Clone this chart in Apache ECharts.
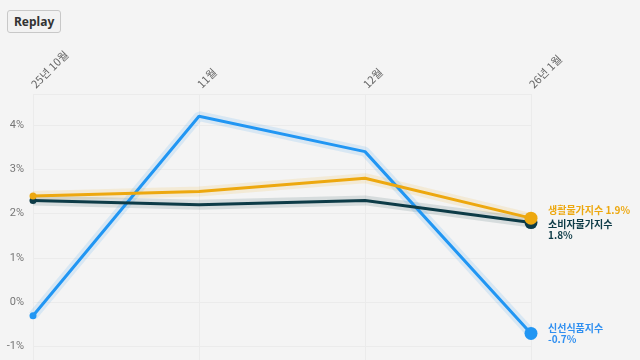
<!DOCTYPE html>
<html><head><meta charset="utf-8">
<script src="https://cdn.jsdelivr.net/npm/echarts@6/dist/echarts.min.js"></script>
<style>
html,body{margin:0;padding:0;background:#f4f4f4;width:640px;height:360px;overflow:hidden;}
#btn{position:absolute;left:7px;top:10px;height:23px;padding:0 6px;font:bold 12px "Noto Sans",sans-serif;color:#333;background:#f2f2f2;border:1px solid #c8c8c8;border-radius:3px;z-index:2;}
#c{position:absolute;left:0;top:0;width:640px;height:360px;}
</style></head><body>
<button id="btn">Replay</button>
<div id="c"></div>
<script>
const categories = ['25년 10월', '11월', '12월', '26년 1월'];
const seriesNames = ['생활물가지수', '소비자물가지수', '신선식품지수'];
const livingValues = [2.4, 2.5, 2.8, 1.9];
const consumerValues = [2.3, 2.2, 2.3, 1.8];
const freshValues = [-0.3, 4.2, 3.4, -0.7];
const yTicks = [-1, 0, 1, 2, 3, 4];

const colors = ['#eda80f', '#0d3b47', '#2196f3'];
const labelColors = ['#eda80f', '#0d3b47', '#2f8ff0'];
const labelOffsets = [[0, -8], [0, 7], [0, 0]];
const dataSets = [livingValues, consumerValues, freshValues];

const chart = echarts.init(document.getElementById('c'));
const series = [];
dataSets.forEach((d, i) => {
  series.push({
    type: 'line', data: d, silent: true, symbol: 'none', z: 1,
    lineStyle: { width: 10, color: colors[i], opacity: 0.13 },
    animation: false
  });
});
dataSets.forEach((d, i) => {
  const n = d.length;
  series.push({
    name: seriesNames[i], type: 'line', data: d, z: 3 + (2 - i),
    symbol: 'circle', showAllSymbol: true,
    symbolSize: (v, p) => p.dataIndex === n - 1 ? 13 : (p.dataIndex === 0 ? 7 : 0),
    itemStyle: { color: colors[i] },
    lineStyle: { width: 3, color: colors[i] },
    endLabel: {
      show: true, distance: 17, offset: labelOffsets[i],
      formatter: p => p.seriesName + ' ' + p.value + '%',
      color: labelColors[i], fontSize: 10, fontWeight: 'bold',
      fontFamily: '"Noto Sans CJK KR", sans-serif',
      width: 87, overflow: 'break', lineHeight: 11
    },
    labelLine: { show: true, length2: 2, lineStyle: { color: '#c8c8c8', width: 1 } },
    labelLayout: { moveOverlap: 'shiftY' },
    animation: false
  });
});

chart.setOption({
  backgroundColor: '#f4f4f4',
  grid: { left: 33, right: 109, top: 94, bottom: 0, containLabel: false },
  xAxis: {
    type: 'category', data: categories, position: 'top', boundaryGap: false,
    axisLine: { show: true, lineStyle: { color: '#ebebeb' } },
    axisTick: { show: false },
    splitLine: { show: true, lineStyle: { color: '#ebebeb' } },
    axisLabel: { rotate: 45, color: '#666', fontSize: 11, margin: 8,
      fontFamily: '"Noto Sans CJK KR", sans-serif' }
  },
  yAxis: {
    type: 'value', min: -1.3, max: 4.7,
    axisLine: { show: false }, axisTick: { show: false },
    splitLine: { show: true, lineStyle: { color: '#ebebeb' } },
    axisLabel: {
      color: '#777', fontSize: 11, margin: 9, showMinLabel: false, showMaxLabel: false,
      fontFamily: 'Roboto, sans-serif',
      formatter: v => yTicks.indexOf(Math.round(v)) >= 0 && Math.abs(v - Math.round(v)) < 1e-6 ? Math.round(v) + '%' : ''
    }
  },
  series: series
});
</script>
</body></html>
